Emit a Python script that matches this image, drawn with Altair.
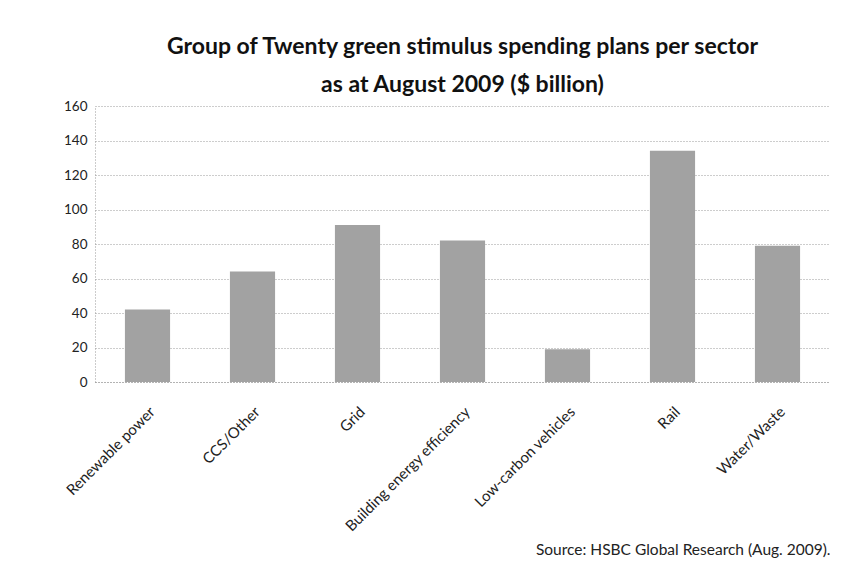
import altair as alt
import pandas as pd

sectors = ["Renewable power", "CCS/Other", "Grid", "Building energy efficiency",
           "Low-carbon vehicles", "Rail", "Water/Waste"]
values = [42, 64, 91, 82, 19, 134, 79]

df = pd.DataFrame({"sector": sectors, "value": values})

FONT = "Lato"

chart = alt.Chart(df).mark_bar(color="#a2a2a2").encode(
    x=alt.X("sector:N", sort=sectors,
            scale=alt.Scale(paddingInner=0.57, paddingOuter=0.285),
            axis=alt.Axis(title="Source: HSBC Global Research (Aug. 2009).",
                          titleAnchor="end", titleAlign="right",
                          titleFontWeight="normal", titleFontSize=15.5,
                          titleColor="#222222", titlePadding=8,
                          labelAngle=-45, labelFontSize=15, labelColor="#222222",
                          labelPadding=22, ticks=False,
                          domainColor="#999999", domainDash=[1, 2])),
    y=alt.Y("value:Q", scale=alt.Scale(domain=[0, 160]),
            axis=alt.Axis(title=None, values=list(range(0, 161, 20)),
                          labelFontSize=13.5, labelColor="#222222", ticks=False,
                          labelPadding=8,
                          domainColor="#999999", domainDash=[1, 2],
                          gridColor="#9a9a9a", gridDash=[1, 2], gridWidth=1)),
).properties(
    width=735,
    height=276,
    title=alt.TitleParams(
        text=["Group of Twenty green stimulus spending plans per sector",
              "as at August 2009 ($ billion)"],
        fontSize=23, fontWeight="bold", font=FONT, color="#111111",
        anchor="middle", lineHeight=38, offset=2),
    padding={"left": 55, "top": 28, "right": 0, "bottom": 2},
).configure(font=FONT).configure_view(stroke=None).configure_axis(
    labelFont=FONT, titleFont=FONT)

chart.save("out.html", embed_options={"renderer": "svg", "actions": False})
